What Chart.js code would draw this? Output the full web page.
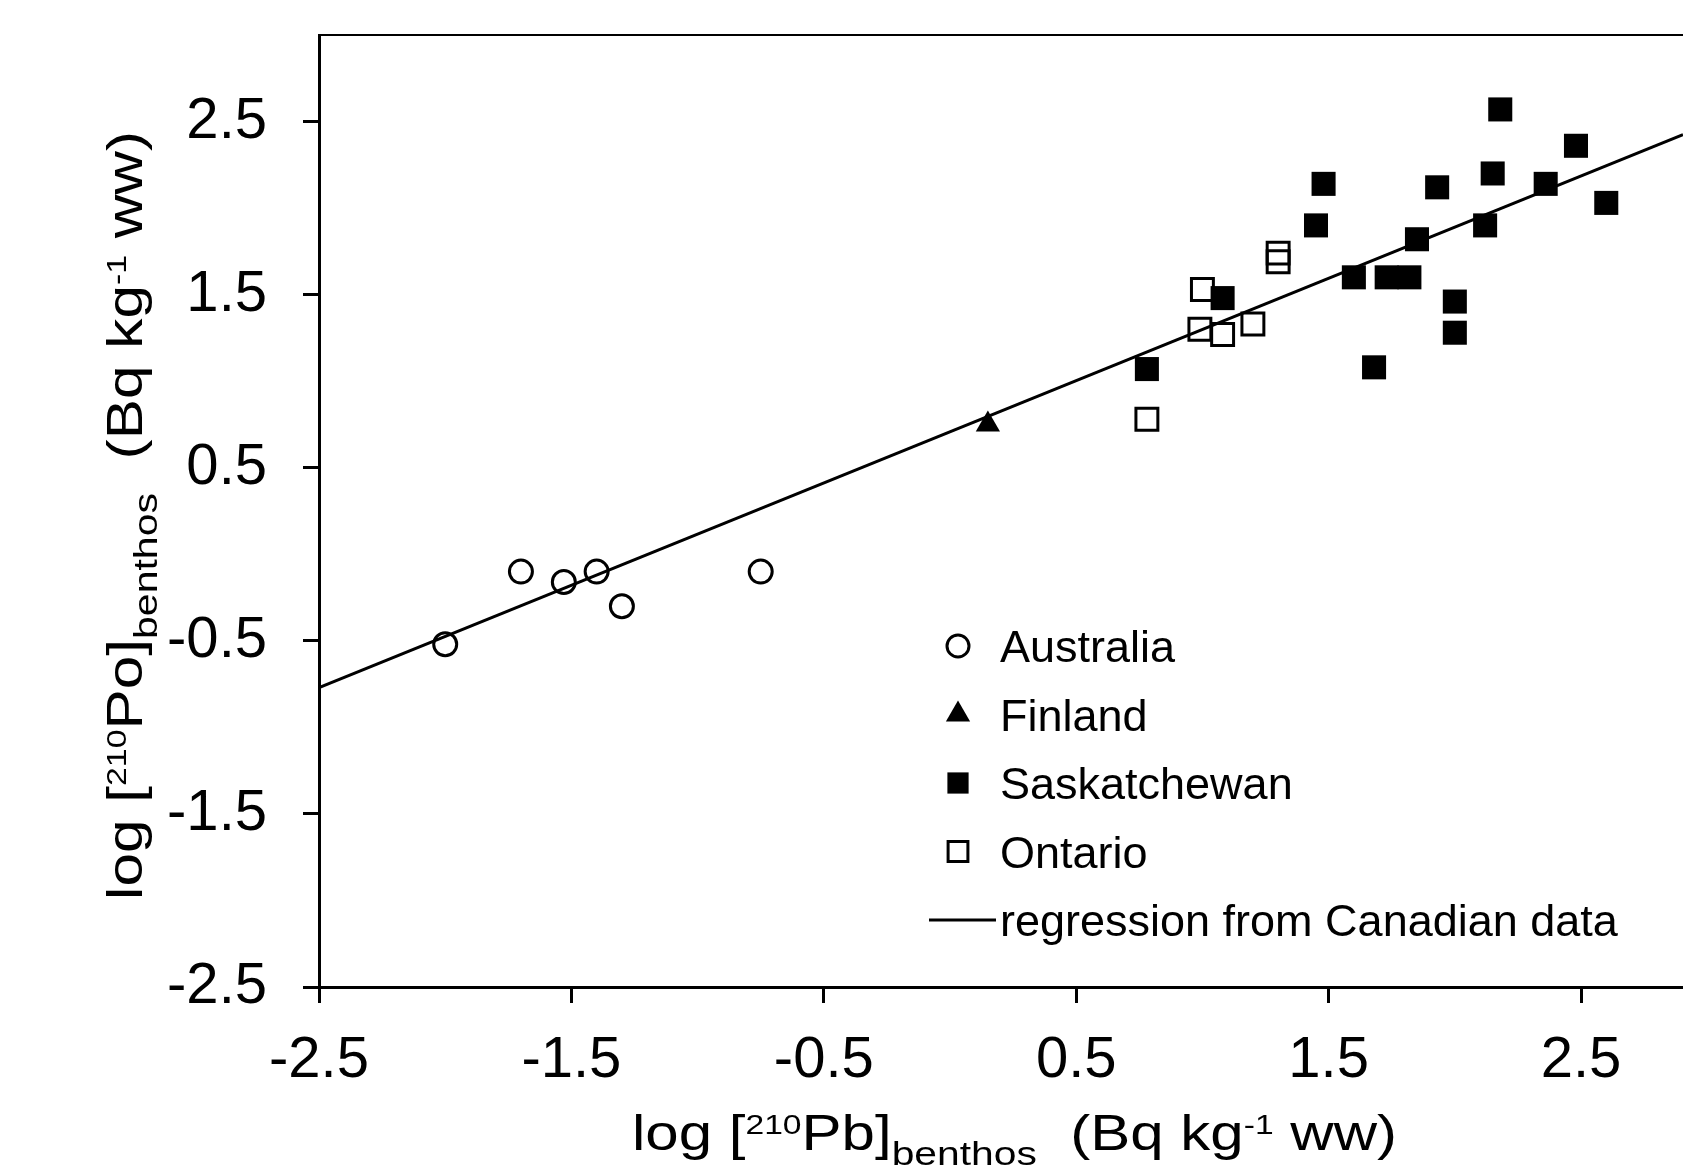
<!DOCTYPE html>
<html>
<head>
<meta charset="utf-8">
<title>log 210Po vs log 210Pb in benthos</title>
<script src="https://cdn.jsdelivr.net/npm/chart.js@4.4.1/dist/chart.umd.min.js"></script>
<style>
    html, body { margin: 0; padding: 0; background: #fff; overflow: hidden; }
    #wrap { position: relative; width: 1683px; height: 1170px; }
    #chart { display: block; }
</style>
</head>
<body>
<div id="wrap"><canvas id="chart"></canvas></div>
<script>
/* global Chart */
'use strict';

// Values (log10 Bq/kg ww)
var australiaX = [-2.00, -1.70, -1.53, -1.40, -1.30, -0.75];
var australiaY = [-0.52, -0.10, -0.16, -0.10, -0.30, -0.10];

var finlandX = [0.15];
var finlandY = [0.75];

var saskX = [0.78, 1.08, 1.45, 1.48, 1.60, 1.68, 1.73, 1.82, 1.85, 1.93, 2.00, 2.00, 2.12, 2.15, 2.18, 2.36, 2.48, 2.60];
var saskY = [1.07, 1.48, 1.90, 2.14, 1.60, 1.08, 1.60, 1.60, 1.82, 2.12, 1.46, 1.28, 1.90, 2.20, 2.57, 2.14, 2.36, 2.03];

var ontarioX = [0.78, 1.00, 0.99, 1.08, 1.20, 1.30, 1.30];
var ontarioY = [0.78, 1.53, 1.30, 1.27, 1.33, 1.74, 1.69];

// regression from Canadian data, end points across the plot
var regressionX = [-2.5, 2.904];
var regressionY = [-0.77, 2.425];

var xTicks = [-2.5, -1.5, -0.5, 0.5, 1.5, 2.5];
var yTicks = [-2.5, -1.5, -0.5, 0.5, 1.5, 2.5];

var FONT = "'Liberation Sans', Arial, Helvetica, sans-serif";

function pairs(xs, ys) {
    return xs.map(function (x, i) { return { x: x, y: ys[i] }; });
}

// draws text made of pieces (sup/sub), stretched to a given span
function drawRich(ctx, parts, cx, cy, span, rotate) {
    ctx.save();
    ctx.translate(cx, cy);
    if (rotate) ctx.rotate(-Math.PI / 2);
    var total = 0;
    parts.forEach(function (p) {
        ctx.font = p.size + 'px ' + FONT;
        p.w = ctx.measureText(p.text).width;
        total += p.w;
    });
    ctx.scale(span / total, 1);
    ctx.fillStyle = '#000';
    ctx.textAlign = 'left';
    ctx.textBaseline = 'alphabetic';
    var x = -total / 2;
    parts.forEach(function (p) {
        ctx.font = p.size + 'px ' + FONT;
        ctx.fillText(p.text, x, p.dy);
        x += p.w;
    });
    ctx.restore();
}

function titleParts(el) {
    return [
        { text: 'log [', size: 50, dy: 0 },
        { text: '210', size: 28, dy: -16 },
        { text: el + ']', size: 50, dy: 0 },
        { text: 'benthos', size: 34, dy: 15 },
        { text: '  (Bq kg', size: 50, dy: 0 },
        { text: '-1', size: 28, dy: -16 },
        { text: ' ww)', size: 50, dy: 0 }
    ];
}

// keep the plot box where the figure has it
function noPad(axis) {
    axis.paddingTop = 0;
    axis.paddingBottom = 0;
    axis.paddingLeft = 0;
    axis.paddingRight = 0;
}

var decorPlugin = {
    id: 'decor',
    afterDatasetsDraw: function (chart) {
        var ctx = chart.ctx;
        var area = chart.chartArea;

        // top frame line
        ctx.save();
        ctx.strokeStyle = '#000';
        ctx.lineWidth = 2;
        ctx.beginPath();
        ctx.moveTo(area.left, area.top);
        ctx.lineTo(area.right, area.top);
        ctx.stroke();
        ctx.restore();

        // legend inside the plot
        var lx = 958, tx = 1000, y0 = 646, dy = 68.5;
        var sizes = [11, 14, 15, 14];
        ctx.save();
        ctx.font = '45px ' + FONT;
        ctx.textBaseline = 'alphabetic';
        ctx.textAlign = 'left';
        chart.data.datasets.forEach(function (ds, i) {
            if (i === 0) return;
            var y = y0 + (i - 1) * dy;
            ctx.fillStyle = ds.backgroundColor;
            ctx.strokeStyle = ds.borderColor;
            ctx.lineWidth = ds.borderWidth;
            Chart.helpers.drawPoint(ctx, {
                pointStyle: ds.pointStyle,
                radius: sizes[i - 1],
                rotation: 0,
                borderWidth: ds.borderWidth
            }, lx, y);
            ctx.fillStyle = '#000';
            ctx.fillText(ds.label, tx, y + 16);
        });
        var yr = y0 + 4 * dy;
        ctx.strokeStyle = '#000';
        ctx.lineWidth = 3;
        ctx.beginPath();
        ctx.moveTo(929, yr);
        ctx.lineTo(996, yr);
        ctx.stroke();
        ctx.fillStyle = '#000';
        ctx.fillText(chart.data.datasets[0].label, tx, yr + 16);
        ctx.restore();

        // axis titles
        drawRich(ctx, titleParts('Pb'), 1014.5, 1150, 765, false);
        drawRich(ctx, titleParts('Po'), 142, 515.5, 769, true);
    }
};

var tickFont = { family: FONT, size: 58 };

new Chart(document.getElementById('chart'), {
    type: 'scatter',
    data: {
        datasets: [
            {
                label: 'regression from Canadian data',
                data: pairs(regressionX, regressionY),
                showLine: true,
                borderColor: '#000',
                backgroundColor: '#000',
                borderWidth: 3,
                pointRadius: 0,
                fill: false
            },
            {
                label: 'Australia',
                data: pairs(australiaX, australiaY),
                pointStyle: 'circle',
                pointRadius: 11.5,
                backgroundColor: 'rgba(0,0,0,0)',
                borderColor: '#000',
                borderWidth: 3
            },
            {
                label: 'Finland',
                data: pairs(finlandX, finlandY),
                pointStyle: 'triangle',
                pointRadius: 14,
                backgroundColor: '#000',
                borderColor: '#000',
                borderWidth: 0
            },
            {
                label: 'Saskatchewan',
                data: pairs(saskX, saskY),
                pointStyle: 'rect',
                pointRadius: 17,
                backgroundColor: '#000',
                borderColor: '#000',
                borderWidth: 0
            },
            {
                label: 'Ontario',
                data: pairs(ontarioX, ontarioY),
                pointStyle: 'rect',
                pointRadius: 15.5,
                backgroundColor: 'rgba(0,0,0,0)',
                borderColor: '#000',
                borderWidth: 3
            }
        ]
    },
    options: {
        responsive: true,
        maintainAspectRatio: false,
        animation: false,
        layout: { autoPadding: false, padding: { left: 0, top: 35, right: 0, bottom: 0 } },
        plugins: {
            legend: { display: false },
            tooltip: { enabled: false }
        },
        scales: {
            x: {
                type: 'linear',
                min: -2.5,
                max: 2.904,
                afterBuildTicks: function (axis) {
                    axis.ticks = xTicks.map(function (v) { return { value: v }; });
                },
                afterFit: function (axis) {
                    axis.height = 183;
                    noPad(axis);
                },
                border: { display: true, color: '#000', width: 3 },
                grid: { drawOnChartArea: false, drawTicks: true, tickLength: 16, tickWidth: 3, tickColor: '#000' },
                ticks: {
                    color: '#000',
                    font: tickFont,
                    padding: 23,
                    maxRotation: 0,
                    autoSkip: false,
                    callback: function (v) { return v.toFixed(1); }
                }
            },
            y: {
                type: 'linear',
                min: -2.5,
                max: 3.0,
                afterBuildTicks: function (axis) {
                    axis.ticks = yTicks.map(function (v) { return { value: v }; });
                },
                afterFit: function (axis) {
                    axis.width = 319;
                    noPad(axis);
                },
                border: { display: true, color: '#000', width: 3 },
                grid: { drawOnChartArea: false, drawTicks: true, tickLength: 16, tickWidth: 3, tickColor: '#000' },
                ticks: {
                    color: '#000',
                    font: tickFont,
                    padding: 36,
                    autoSkip: false,
                    callback: function (v) { return v.toFixed(1); }
                }
            }
        }
    },
    plugins: [decorPlugin]
});
</script>
</body>
</html>
